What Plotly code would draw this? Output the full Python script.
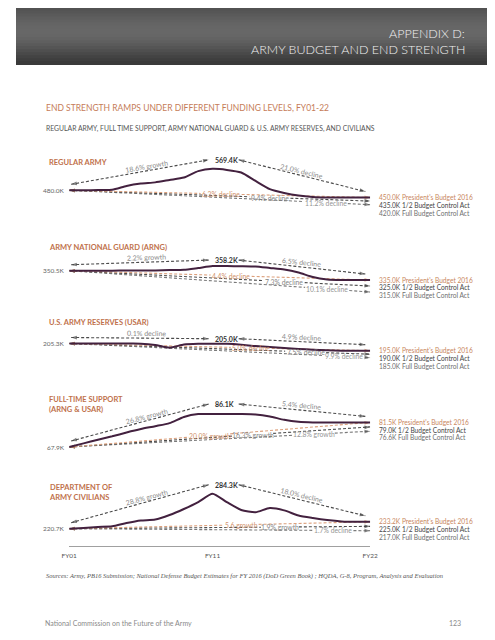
import math
import plotly.graph_objects as go

# ---------------- data ----------------
YEARS = list(range(2001, 2023))
REGULAR_ARMY = [480.0, 480.5, 481.0, 482.0, 498.0, 508.0, 513.0, 523.0, 533.0, 560.0, 569.4,
                565.0, 554.0, 519.0, 485.0, 469.0, 458.0, 452.0, 450.0, 450.0, 450.0, 450.0]
ARMY_NATIONAL_GUARD = [350.5, 350.5, 350.5, 350.6, 350.7, 350.8, 351.0, 351.5, 352.0, 355.0, 358.2,
                       358.2, 358.0, 357.5, 355.0, 352.5, 347.5, 340.0, 336.0, 335.0, 335.0, 335.0]
ARMY_RESERVES = [205.3, 205.3, 205.4, 205.3, 205.2, 205.1, 203.2, 199.3, 203.9, 205.0, 205.0,
                 204.8, 203.6, 201.7, 200.3, 199.0, 197.5, 196.5, 195.5, 195.0, 195.0, 195.0]
FULL_TIME_SUPPORT = [67.9, 69.9, 71.9, 73.8, 75.9, 77.8, 79.4, 81.1, 84.5, 86.1, 86.1,
                     86.1, 86.1, 85.9, 84.8, 82.9, 81.8, 81.5, 81.5, 81.5, 81.5, 81.5]
ARMY_CIVILIANS = [220.7, 222.0, 223.8, 225.0, 231.0, 235.6, 237.4, 245.6, 256.5, 269.0, 284.3,
                  269.0, 254.7, 250.5, 258.3, 254.0, 244.7, 240.2, 236.5, 234.0, 233.2, 233.2]
SERIES = [REGULAR_ARMY, ARMY_NATIONAL_GUARD, ARMY_RESERVES, FULL_TIME_SUPPORT, ARMY_CIVILIANS]

PANEL_TITLES = ["REGULAR ARMY", "ARMY NATIONAL GUARD (ARNG)", "U.S. ARMY RESERVES (USAR)",
                "FULL-TIME SUPPORT<br>(ARNG & USAR)", "DEPARTMENT OF<br>ARMY CIVILIANS"]
PEAK_YEAR = 2011
PEAK_VALUES = [569.4, 358.2, 205.0, 86.1, 284.3]
PRESIDENTS_BUDGET = [450.0, 335.0, 195.0, 81.5, 233.2]
HALF_BCA = [435.0, 325.0, 190.0, 79.0, 225.0]
FULL_BCA = [420.0, 315.0, 185.0, 76.6, 217.0]
GROWTH_LABELS = ["18.6% growth", "2.2% growth", "0.1% decline", "26.8% growth", "28.8% growth"]
DECLINE_LABELS = ["21.0% decline", "6.5% decline", "4.9% decline", "5.4% decline", "18.0% decline"]
PB_CHANGE = ["6.3% decline", "4.4% decline", "5.0% decline", "20.0% growth", "5.6 growth"]
HALF_CHANGE = ["9.4% decline", "7.3% decline", "7.5% decline", "16.3% growth", "1.9% growth"]
FULL_CHANGE = ["11.2% decline", "10.1% decline", "9.9% decline", "12.8% growth", "1.7% decline"]
SCENARIO_NAMES = ["President's Budget 2016", "1/2 Budget Control Act", "Full Budget Control Act"]
TICK_YEARS = [2001, 2011, 2022]
TICK_TEXT = ["FY01", "FY11", "FY22"]

# ---------------- layout / style ----------------
W, H = 495, 640
X0PX, X1PX = 55.0, 366.0
PXYR = (X1PX - X0PX) / 21.0
PANEL_Y0 = [182.3, 262.7, 335.5, 439.0, 520.7]   # pixel row of the FY01 value
PANEL_SCALE = [0.24, 0.6, 0.7, 1.81, 0.55]        # pixels per thousand
PEAK_LABEL_DY = [9, 6, 5, 10, 9]
SCEN_LABEL_YR = [[2011.6, 2015.0, 2018.9], [2012.3, 2016.0, 2019.0], [2013.7, 2017.5, 2020.2],
                 [2010.8, 2013.8, 2018.1], [2013.0, 2015.7, 2019.4]]
TITLE_PX = [154, 239, 314, 396.5, 484.5]

PLUM = "#43213f"
ORANGE_LINE = "#dca07c"
ORANGE_TEXT = "#d2936d"
SCEN_LINE = [ORANGE_LINE, "#4d4d4d", "#7a7a7a"]
SCEN_HEAD = ["#d48f66", "#3d3d3d", "#555555"]
SCEN_TEXT = [ORANGE_TEXT, "#858585", "#959595"]
RIGHT_TEXT = ["#c98760", "#444444", "#6f6f6f"]
ARROW_C = "#4a4a4a"
FONT = "Lato"
DASH = "3px,2px"


def ypx(p, v):
    return PANEL_Y0[p] - (v - SERIES[p][0]) * PANEL_SCALE[p]


def v_of(p, py):
    return SERIES[p][0] + (PANEL_Y0[p] - py) / PANEL_SCALE[p]


def xpx(yr):
    return X0PX + (yr - 2001) * PXYR


def yr_of(px):
    return 2001 + (px - X0PX) / PXYR


def yname(p):
    return "y" if p == 0 else f"y{p + 1}"


fig = go.Figure()
annotations = []


def seg(p, xs, ys, color, width=1.1):
    fig.add_trace(go.Scatter(x=xs, y=ys, yaxis=yname(p), mode="lines",
                             line=dict(color=color, width=width, dash=DASH),
                             hoverinfo="skip", showlegend=False))


def head(p, xf, yf, xt, yt, color):
    fig.add_trace(go.Scatter(x=[xf, xt], y=[yf, yt], yaxis=yname(p), mode="markers",
                             marker=dict(symbol="arrow", size=[0, 6], angleref="previous",
                                         color=color, line=dict(width=0)),
                             cliponaxis=False, hoverinfo="skip", showlegend=False))


def px_arrow(p, ax0, ay0, ax1, ay1, text, frac):
    xs = [yr_of(ax0), yr_of(ax1)]
    ys = [v_of(p, ay0), v_of(p, ay1)]
    seg(p, xs, ys, ARROW_C)
    head(p, xs[1], ys[1], xs[0], ys[0], ARROW_C)
    head(p, xs[0], ys[0], xs[1], ys[1], ARROW_C)
    ang = math.degrees(math.atan2(ay1 - ay0, ax1 - ax0))
    tx = ax0 + frac * (ax1 - ax0)
    ty = ay0 + frac * (ay1 - ay0)
    annotations.append(dict(x=yr_of(tx), y=v_of(p, ty), xref="x", yref=yname(p), text=text,
                            showarrow=False, textangle=ang, yshift=5,
                            font=dict(family=FONT, size=7, color="#8a8a8a")))


for p in range(5):
    ser = SERIES[p]
    start = ser[0]
    ends = [PRESIDENTS_BUDGET[p], HALF_BCA[p], FULL_BCA[p]]
    changes = [PB_CHANGE[p], HALF_CHANGE[p], FULL_CHANGE[p]]
    # scenario ramps (drawn back to front)
    for k in [2, 1, 0]:
        end = ends[k]
        xl = SCEN_LABEL_YR[p][k]
        hw = (len(changes[k]) * 3.2 / 2 + 2) / PXYR

        def lin(x):
            return start + (end - start) * (x - 2001) / 21.0
        seg(p, [2001, xl - hw], [start, lin(xl - hw)], SCEN_LINE[k])
        seg(p, [xl + hw, 2022], [lin(xl + hw), end], SCEN_LINE[k])
        head(p, 2002, lin(2002), 2001, start, SCEN_HEAD[k])
        head(p, 2021, lin(2021), 2022, end, SCEN_HEAD[k])
        annotations.append(dict(x=xl, y=lin(xl), xref="x", yref=yname(p), text=changes[k],
                                showarrow=False, font=dict(family=FONT, size=6.8, color=SCEN_TEXT[k])))
        # right-hand labels
        desired = ypx(p, PRESIDENTS_BUDGET[p]) - 0.5 + 7.8 * k
        actual = ypx(p, end)
        annotations.append(dict(x=2022, y=end, xref="x", yref=yname(p), xanchor="left",
                                xshift=7, yshift=actual - desired, showarrow=False,
                                text=f"{end:.1f}K {SCENARIO_NAMES[k]}",
                                font=dict(family=FONT, size=6.6, color=RIGHT_TEXT[k])))
    # actual end strength line
    fig.add_trace(go.Scatter(x=YEARS, y=ser, yaxis=yname(p), mode="lines",
                             line=dict(color=PLUM, width=2, shape="spline", smoothing=0.6),
                             hoverinfo="skip", showlegend=False))
    # growth / decline arrows around the FY11 label
    peak = PEAK_VALUES[p]
    ly = ypx(p, peak) - PEAK_LABEL_DY[p]
    px_arrow(p, xpx(2001) + 2, PANEL_Y0[p] - 6, xpx(PEAK_YEAR) - 4, ly, GROWTH_LABELS[p], 0.55)
    px_arrow(p, xpx(PEAK_YEAR) + 27, ly, xpx(2022) - 5, ypx(p, PRESIDENTS_BUDGET[p]) - 6,
             DECLINE_LABELS[p], 0.5)
    annotations.append(dict(x=PEAK_YEAR, y=peak, xref="x", yref=yname(p), xanchor="left",
                            yshift=PEAK_LABEL_DY[p], showarrow=False, text=f"<b>{peak:.1f}K</b>",
                            font=dict(family=FONT, size=7, color="#333333")))
    annotations.append(dict(x=2001, y=start, xref="x", yref=yname(p), xanchor="right",
                            xshift=-2, showarrow=False, text=f"{start:.1f}K",
                            font=dict(family=FONT, size=6.5, color="#666666")))
    annotations.append(dict(x=32 / W, y=1 - TITLE_PX[p] / H, xref="paper", yref="paper",
                            xanchor="left", yanchor="middle", align="left", showarrow=False,
                            text=f"<b>{PANEL_TITLES[p]}</b>",
                            font=dict(family=FONT, size=7.5, color="#c0714b")))


def ptext(x, y, text, size, color, anchor="left", family=FONT, weight=None, italic=False):
    f = dict(family=family, size=size, color=color)
    if weight:
        f["weight"] = weight
    if italic:
        f["style"] = "italic"
    annotations.append(dict(x=x / W, y=1 - y / H, xref="paper", yref="paper", xanchor=anchor,
                            yanchor="middle", showarrow=False, text=text, font=f))


ptext(466, 25, "APPENDIX D:", 12.5, "#f2f2f2", "right", weight=300)
ptext(466, 41, "ARMY BUDGET AND END STRENGTH", 12.5, "#f2f2f2", "right", weight=300)
ptext(29, 100, "END STRENGTH RAMPS UNDER DIFFERENT FUNDING LEVELS, FY01-22", 8.5, "#c57c58")
ptext(29, 120, "REGULAR ARMY, FULL TIME SUPPORT, ARMY NATIONAL GUARD &amp; U.S. ARMY RESERVES, AND CIVILIANS",
      6.8, "#555555")
ptext(29, 568, "Sources: Army, PB16 Submission; National Defense Budget Estimates for FY 2016 (DoD Green Book) ; "
      "HQDA, G-8, Program, Analysis and Evaluation", 6.5, "#555555", family="Liberation Serif", italic=True)
ptext(28, 615, "National Commission on the Future of the Army", 7, "#8a8a8a")
ptext(462, 615, "123", 7, "#8a8a8a", "right")

# header gradient
levels = [82, 86, 90, 94, 97, 100, 102, 103, 103, 102, 99, 95, 90, 85, 79, 73, 67, 62, 58]
shapes = []
for i, g in enumerate(levels):
    shapes.append(dict(type="rect", xref="paper", yref="paper", x0=0, x1=1,
                       y0=1 - (i + 1) * 3 / H, y1=1 - i * 3 / H + 0.001,
                       fillcolor=f"rgb({g},{g},{g})", line=dict(width=0), layer="below"))

layout_axes = {}
for p in range(5):
    lo = v_of(p, H)
    hi = v_of(p, 0)
    ax = dict(domain=[0, 1], range=[lo, hi], visible=False, fixedrange=True, showgrid=False,
              zeroline=False)
    if p == 0:
        layout_axes["yaxis"] = ax
    else:
        ax.update(overlaying="y", anchor="x")
        layout_axes[f"yaxis{p + 1}"] = ax

fig.update_layout(
    width=W, height=H, margin=dict(l=0, r=0, t=0, b=0),
    paper_bgcolor="white", plot_bgcolor="rgba(0,0,0,0)",
    showlegend=False,
    xaxis=dict(domain=[X0PX / W, X1PX / W], range=[2001, 2022], anchor="free",
               position=1 - 538 / H, showline=True, linecolor="#a0a0a0", linewidth=1,
               showgrid=False, zeroline=False, tickvals=TICK_YEARS, ticktext=TICK_TEXT,
               ticks="outside", ticklen=3, tickcolor="rgba(0,0,0,0)",
               tickfont=dict(family=FONT, size=6.5, color="#555555"), fixedrange=True),
    annotations=annotations, shapes=shapes,
    **layout_axes,
)

fig.write_html("out.html")
